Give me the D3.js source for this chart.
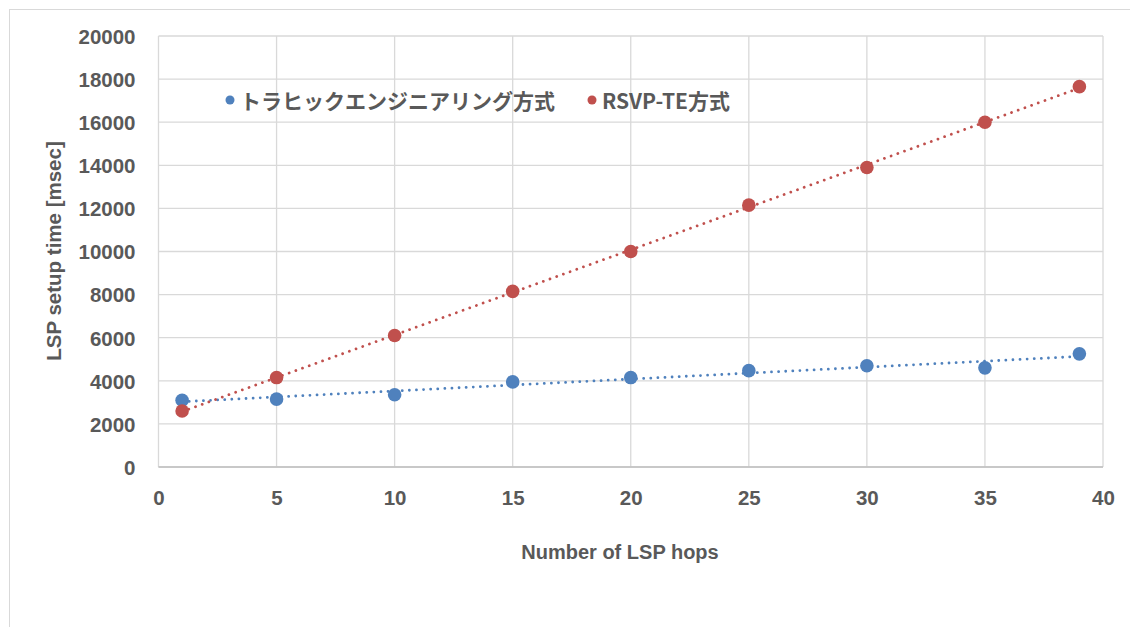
<!DOCTYPE html>
<html>
<head>
<meta charset="utf-8">
<script src="https://cdn.jsdelivr.net/npm/d3@7/dist/d3.min.js"></script>
<style>
  html, body { margin: 0; padding: 0; background: #ffffff; }
  svg { display: block; }
</style>
</head>
<body>
<svg id="chart" width="1130" height="627"></svg>
<script>
// Hop counts and measured setup times (msec)
const hops = [1, 5, 10, 15, 20, 25, 30, 35, 39];
const teTimes = [3100, 3150, 3350, 3950, 4150, 4470, 4700, 4600, 5250];
const rsvpTimes = [2600, 4150, 6100, 8150, 10000, 12150, 13900, 16000, 17650];

const xTicks = [0, 5, 10, 15, 20, 25, 30, 35, 40];
const yTicks = [0, 2000, 4000, 6000, 8000, 10000, 12000, 14000, 16000, 18000, 20000];

const seriesNames = ["トラヒックエンジニアリング方式", "RSVP-TE方式"];
const seriesColors = ["#4F81BD", "#C0504D"];

const textColor = "#595959";
const gridColor = "#D9D9D9";
const latinFont = "'Liberation Sans', Arial, sans-serif";
const cjkFont = "'Noto Sans CJK JP', 'Noto Sans', sans-serif";

const svg = d3.select("#chart");

// outer chart frame
svg.append("rect")
  .attr("x", 9.5).attr("y", 9.5)
  .attr("width", 1300).attr("height", 800)
  .attr("fill", "#fff")
  .attr("stroke", gridColor).attr("stroke-width", 1);

const plot = { left: 158.5, right: 1103, top: 36, bottom: 467 };

const x = d3.scaleLinear().domain([0, 40]).range([plot.left, plot.right]);
const y = d3.scaleLinear().domain([0, 20000]).range([plot.bottom, plot.top]);

// gridlines
const grid = svg.append("g");
grid.selectAll("line.h").data(yTicks).join("line")
  .attr("x1", plot.left).attr("x2", plot.right)
  .attr("y1", d => y(d)).attr("y2", d => y(d))
  .attr("stroke", gridColor).attr("stroke-width", 1.3);
grid.selectAll("line.v").data(xTicks).join("line")
  .attr("y1", plot.top).attr("y2", plot.bottom)
  .attr("x1", d => x(d)).attr("x2", d => x(d))
  .attr("stroke", gridColor).attr("stroke-width", 1.3);

// horizontal axis line
svg.append("line")
  .attr("x1", plot.left).attr("x2", plot.right)
  .attr("y1", y(0)).attr("y2", y(0))
  .attr("stroke", "#BFBFBF").attr("stroke-width", 1.3);

// axes (labels only; lines drawn above)
const yAxis = d3.axisLeft(y).tickValues(yTicks).tickSize(0).tickPadding(0).tickFormat(d3.format("d"));
const yg = svg.append("g").attr("transform", `translate(${plot.left - 23},0)`).call(yAxis);
yg.select(".domain").remove();
yg.selectAll("text")
  .attr("fill", textColor)
  .attr("font-family", latinFont)
  .attr("font-weight", "bold")
  .attr("font-size", 20.5)
  .attr("dy", "0.36em");

const xAxis = d3.axisBottom(x).tickValues(xTicks).tickSize(0).tickPadding(0).tickFormat(d3.format("d"));
const xg = svg.append("g").attr("transform", `translate(0,${plot.bottom + 26})`).call(xAxis);
xg.select(".domain").remove();
xg.selectAll("text")
  .attr("fill", textColor)
  .attr("font-family", latinFont)
  .attr("font-weight", "bold")
  .attr("font-size", 20.5)
  .attr("dy", "0.6em");

// axis titles
svg.append("text")
  .attr("x", 620).attr("y", 552)
  .attr("text-anchor", "middle").attr("dominant-baseline", "central")
  .attr("fill", textColor)
  .attr("font-family", latinFont).attr("font-weight", "bold").attr("font-size", 20)
  .text("Number of LSP hops");

svg.append("text")
  .attr("transform", `translate(53,251) rotate(-90)`)
  .attr("text-anchor", "middle").attr("dominant-baseline", "central")
  .attr("fill", textColor)
  .attr("font-family", latinFont).attr("font-weight", "bold").attr("font-size", 20.5)
  .text("LSP setup time [msec]");

// least-squares linear trendline over the data range
function linearFit(xs, ys) {
  const n = xs.length;
  const mx = d3.mean(xs), my = d3.mean(ys);
  let sxy = 0, sxx = 0;
  for (let i = 0; i < n; i++) {
    sxy += (xs[i] - mx) * (ys[i] - my);
    sxx += (xs[i] - mx) * (xs[i] - mx);
  }
  const slope = sxy / sxx;
  return { slope, intercept: my - slope * mx };
}

const allSeries = [teTimes, rsvpTimes];

allSeries.forEach((vals, i) => {
  const fit = linearFit(hops, vals);
  const x0 = d3.min(hops), x1 = d3.max(hops);
  svg.append("line")
    .attr("x1", x(x0)).attr("y1", y(fit.intercept + fit.slope * x0))
    .attr("x2", x(x1)).attr("y2", y(fit.intercept + fit.slope * x1))
    .attr("stroke", seriesColors[i])
    .attr("stroke-width", 2.8)
    .attr("stroke-linecap", "round")
    .attr("stroke-dasharray", "0.01 7.1");
});

allSeries.forEach((vals, i) => {
  svg.append("g").selectAll("circle")
    .data(hops.map((h, k) => [h, vals[k]]))
    .join("circle")
    .attr("cx", d => x(d[0]))
    .attr("cy", d => y(d[1]))
    .attr("r", 6.8)
    .attr("fill", seriesColors[i]);
});

// legend
const legendItems = [
  { dotX: 230, textX: 240 },
  { dotX: 592, textX: 602 }
];
legendItems.forEach((it, i) => {
  svg.append("circle")
    .attr("cx", it.dotX).attr("cy", 100).attr("r", 4.5)
    .attr("fill", seriesColors[i]);
  svg.append("text")
    .attr("x", it.textX).attr("y", 100)
    .attr("dominant-baseline", "central")
    .attr("fill", textColor)
    .attr("font-family", cjkFont)
    .attr("font-weight", "bold")
    .attr("font-size", 21)
    .text(seriesNames[i]);
});
</script>
</body>
</html>
